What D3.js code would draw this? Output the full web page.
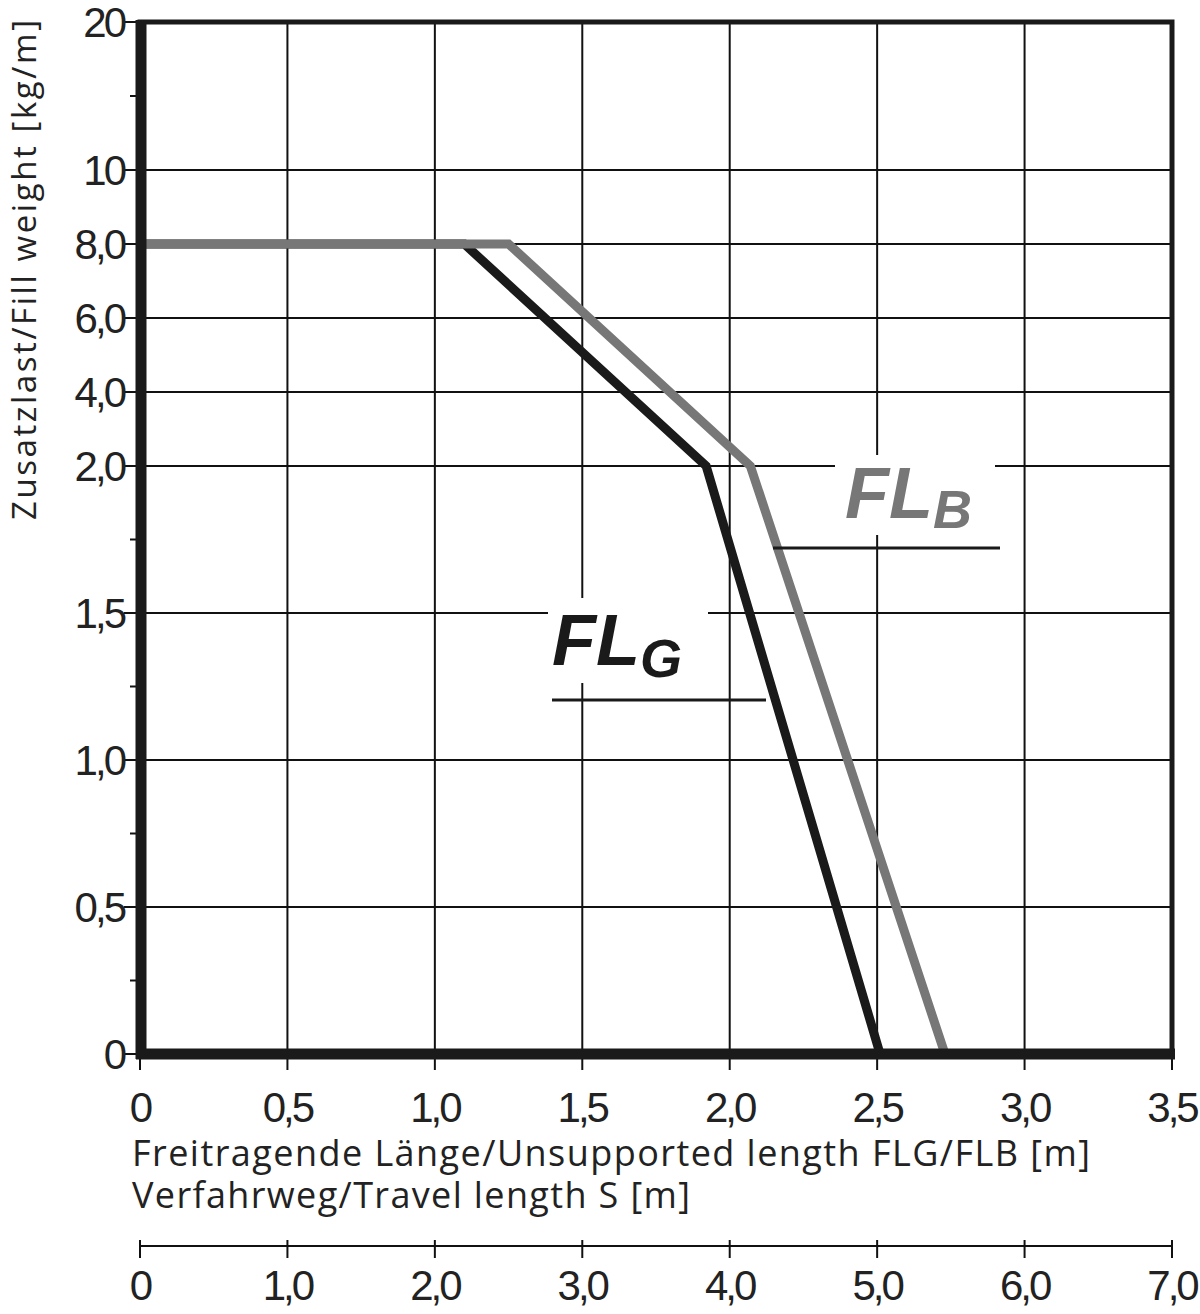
<!DOCTYPE html><html><head><meta charset="utf-8"><script src="https://cdn.jsdelivr.net/npm/d3@7"></script>
<style>body{margin:0;background:#fff}text{font-family:"Liberation Sans",Arial,sans-serif}</style></head><body>
<svg id="c" width="1200" height="1314"></svg>
<script>
const yTicks=[0,0.5,1,1.5,2,4,6,8,10,20];
const yTickLabels=["0","0,5","1,0","1,5","2,0","4,0","6,0","8,0","10","20"];
const yMinor=[0.25,0.75,1.25,1.75,15];
const xTicks=[0,0.5,1,1.5,2,2.5,3,3.5];
const xTickLabels=["0","0,5","1,0","1,5","2,0","2,5","3,0","3,5"];
const sTicks=[0,1,2,3,4,5,6,7];
const sTickLabels=["0","1,0","2,0","3,0","4,0","5,0","6,0","7,0"];
const flgX=[0,1.1,1.92,2.51], flgY=[8,8,2,0];
const flbX=[0,1.25,2.07,2.73], flbY=[8,8,2,0];
const L=140,R=1172,T=22,B=1054;
const svg=d3.select("#c");
const y=d3.scaleLinear().domain(yTicks).range([1054,907,760,613,466,392,318,244,170,22]);
const x=d3.scaleLinear().domain([0,3.5]).range([L,R]);
const s=d3.scaleLinear().domain([0,7]).range([L,R]);
const g=svg.append("g");
yTicks.forEach(v=>g.append("line").attr("x1",L).attr("x2",R).attr("y1",y(v)).attr("y2",y(v)).attr("stroke","#111").attr("stroke-width",2));
xTicks.forEach(v=>g.append("line").attr("x1",x(v)).attr("x2",x(v)).attr("y1",T).attr("y2",B).attr("stroke","#111").attr("stroke-width",2));
yTicks.forEach(v=>g.append("line").attr("x1",L-16).attr("x2",L).attr("y1",y(v)).attr("y2",y(v)).attr("stroke","#111").attr("stroke-width",2));
yMinor.forEach(v=>g.append("line").attr("x1",L-10).attr("x2",L).attr("y1",y(v)).attr("y2",y(v)).attr("stroke","#111").attr("stroke-width",2));
yTicks.forEach((v,i)=>g.append("text").attr("x",L-16).attr("y",y(v)+15).attr("text-anchor","end").attr("font-size",42).attr("letter-spacing",-3).attr("fill","#222").text(yTickLabels[i]));
xTicks.forEach((v,i)=>{g.append("line").attr("x1",x(v)).attr("x2",x(v)).attr("y1",B).attr("y2",B+16).attr("stroke","#111").attr("stroke-width",2);
 g.append("text").attr("x",x(v)).attr("y",1122).attr("text-anchor","middle").attr("font-size",42).attr("letter-spacing",-3).attr("fill","#222").text(xTickLabels[i]);});
const lineG=d3.line().x(d=>x(d[0])).y(d=>y(d[1]));
svg.append("path").attr("d",lineG(flgX.map((v,i)=>[v,flgY[i]]))).attr("fill","none").attr("stroke","#1a1a1a").attr("stroke-width",9);
svg.append("path").attr("d",lineG(flbX.map((v,i)=>[v,flbY[i]]))).attr("fill","none").attr("stroke","#777").attr("stroke-width",9);
svg.append("rect").attr("x",L).attr("y",T).attr("width",R-L).attr("height",B-T).attr("fill","none").attr("stroke","#1a1a1a").attr("stroke-width",5);
svg.append("line").attr("x1",L+1).attr("x2",L+1).attr("y1",T-2).attr("y2",B+5).attr("stroke","#1a1a1a").attr("stroke-width",11);
svg.append("line").attr("x1",L-4).attr("x2",R+3).attr("y1",B).attr("y2",B).attr("stroke","#1a1a1a").attr("stroke-width",11);
svg.append("rect").attr("x",835).attr("y",455).attr("width",160).attr("height",80).attr("fill","#fff");
svg.append("text").attr("x",845).attr("y",518).attr("font-size",72).attr("font-weight","bold").attr("font-style","italic").attr("fill","#777").html('FL<tspan font-size="54" dy="10">B</tspan>');
svg.append("line").attr("x1",773).attr("x2",1000).attr("y1",548).attr("y2",548).attr("stroke","#1a1a1a").attr("stroke-width",3);
svg.append("rect").attr("x",548).attr("y",598).attr("width",160).attr("height",85).attr("fill","#fff");
svg.append("text").attr("x",552).attr("y",665).attr("font-size",72).attr("font-weight","bold").attr("font-style","italic").attr("fill","#1a1a1a").html('FL<tspan font-size="54" dy="12">G</tspan>');
svg.append("line").attr("x1",552).attr("x2",766).attr("y1",700).attr("y2",700).attr("stroke","#1a1a1a").attr("stroke-width",3);
svg.append("text").attr("transform","translate(36,270) rotate(-90)").attr("text-anchor","middle").attr("font-size",33).attr("fill","#222").style("font-family","'Open Sans'").attr("textLength",500).text("Zusatzlast/Fill weight [kg/m]");
svg.append("text").attr("x",132).attr("y",1166).attr("font-size",36).style("font-family","'Open Sans'").attr("fill","#222").attr("textLength",958).text("Freitragende Länge/Unsupported length FLG/FLB [m]");
svg.append("text").attr("x",132).attr("y",1208).attr("font-size",36).style("font-family","'Open Sans'").attr("fill","#222").attr("textLength",558).text("Verfahrweg/Travel length S [m]");
svg.append("line").attr("x1",L).attr("x2",R).attr("y1",1246).attr("y2",1246).attr("stroke","#111").attr("stroke-width",2);
sTicks.forEach((v,i)=>{svg.append("line").attr("x1",s(v)).attr("x2",s(v)).attr("y1",1240).attr("y2",1258).attr("stroke","#111").attr("stroke-width",2);
 svg.append("text").attr("x",s(v)).attr("y",1300).attr("text-anchor","middle").attr("font-size",42).attr("letter-spacing",-3).attr("fill","#222").text(sTickLabels[i]);});
</script></body></html>
